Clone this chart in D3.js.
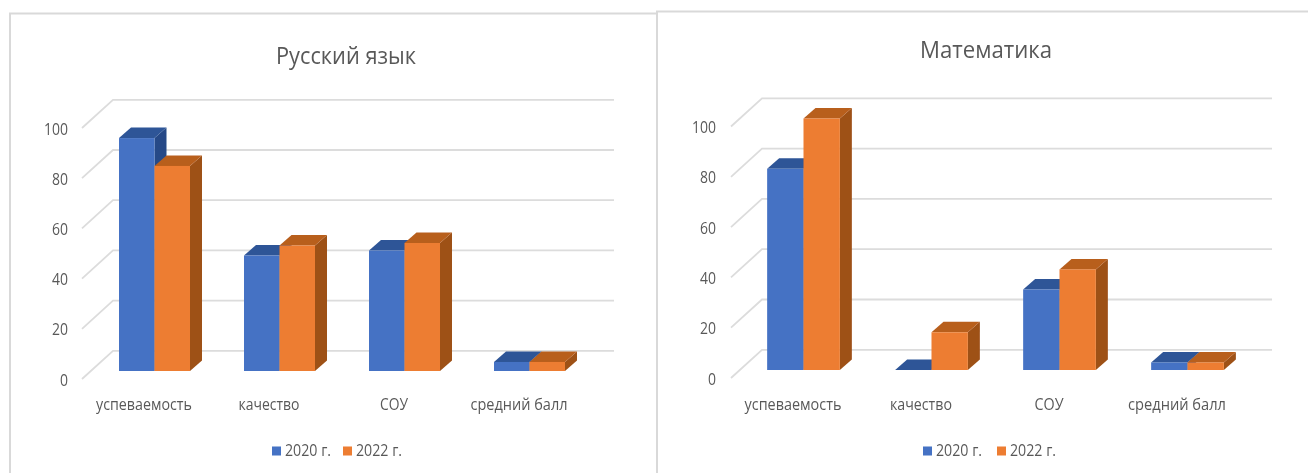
<!DOCTYPE html>
<html><head><meta charset="utf-8">
<script src="https://cdn.jsdelivr.net/npm/d3@7"></script>
<style>html,body{margin:0;padding:0;background:#fff;overflow:hidden}svg{display:block}text{font-family:"Open Sans","Noto Sans",sans-serif;fill:#595959}</style>
</head><body>
<script>
const categories = ["успеваемость","качество","СОУ","средний балл"];
const seriesNames = ["2020 г.","2022 г."];
const russian2020 = [92.8,46,48,3.6];
const russian2022 = [81.7,50,51,3.6];
const math2020 = [80,0,32,3];
const math2022 = [100,15,40,3];
const yTicks = [0,20,40,60,80,100];
const colors = [
 {front:"#4472c4",top:"#2f5597",side:"#264a87"},
 {front:"#ed7d31",top:"#b85f1f",side:"#9e5119"}
];

const svg = d3.select("body").append("svg").attr("width",1308).attr("height",473);
const defs = svg.append("defs");
defs.append("filter").attr("id","soft").append("feGaussianBlur").attr("stdDeviation",0.65);
const root = svg.append("g").attr("filter","url(#soft)");

// panel frames
root.append("path").attr("d","M10,473V13.5H657V473").attr("fill","none").attr("stroke","#d9d9d9").attr("stroke-width",2);
root.append("path").attr("d","M657,13V11.5H1308").attr("fill","none").attr("stroke","#d9d9d9").attr("stroke-width",2);

function chart(o){
  const g = root.append("g");
  const x = d3.scaleBand().domain(categories).range(o.xRange).paddingInner(0.432).paddingOuter(0.216);
  const xs = d3.scaleBand().domain(seriesNames).range([0,x.bandwidth()]);
  const y = d3.scaleLinear().domain([0,100]).range(o.yRange);
  const dx=12, dy=-10.5, wallDy=-20.2;

  // walls
  const ticks = g.selectAll(".t").data(yTicks).enter().append("g");
  ticks.append("path").attr("fill","none").attr("stroke","#dcdcdc").attr("stroke-width",1.8)
    .attr("d",v=>`M${o.gridX0-31},${y(v)+8}L${o.gridX0},${y(v)+wallDy}H${o.gridX1}`);
  ticks.append("text").attr("x",o.labelX).attr("y",v=>y(v)+10).attr("text-anchor","end")
    .attr("dominant-baseline","middle").attr("font-size",17)
    .attr("textLength",v=>String(v).length*8).attr("lengthAdjust","spacingAndGlyphs").text(v=>v);

  // bars
  const rows = categories.map((c,i)=>({c,vals:[o.a[i],o.b[i]]}));
  rows.forEach(r=>{
    r.vals.forEach((v,s)=>{
      const name=seriesNames[s], x0=x(r.c)+xs(name), w=xs.bandwidth(), yt=y(v), yb=y(0), col=colors[s];
      const bar=g.append("g");
      bar.append("path").attr("fill",col.side)
        .attr("d",`M${x0+w},${yt}L${x0+w+dx},${yt+dy}V${yb+dy}L${x0+w},${yb}Z`);
      bar.append("path").attr("fill",col.top)
        .attr("d",`M${x0},${yt}L${x0+dx},${yt+dy}H${x0+w+dx}L${x0+w},${yt}Z`);
      bar.append("rect").attr("x",x0).attr("y",yt).attr("width",w).attr("height",yb-yt).attr("fill",col.front);
    });
  });

  // category labels
  g.selectAll(".c").data(categories).enter().append("text")
    .attr("x",c=>x(c)+x.bandwidth()/2-10.5).attr("y",406).attr("text-anchor","middle")
    .attr("dominant-baseline","middle").attr("font-size",16.5)
    .attr("textLength",(c,i)=>o.catW[i]).attr("lengthAdjust","spacingAndGlyphs").text(c=>c);

  // title
  g.append("text").attr("x",o.titleX).attr("y",o.titleY).attr("text-anchor","middle").attr("dominant-baseline","middle")
    .attr("font-size",24).attr("textLength",o.titleW).attr("lengthAdjust","spacingAndGlyphs").text(o.title);

  // legend
  seriesNames.forEach((n,s)=>{
    g.append("rect").attr("x",o.legX[s]).attr("y",446.5).attr("width",9).attr("height",9).attr("fill",colors[s].front);
    g.append("text").attr("x",o.legX[s]+13).attr("y",452).attr("dominant-baseline","middle").attr("font-size",16.5)
      .attr("textLength",46).attr("lengthAdjust","spacingAndGlyphs").text(n);
  });
}

chart({title:"Русский язык",a:russian2020,b:russian2022,xRange:[92,592],yRange:[371,120],
  gridX0:113,gridX1:614,labelX:68,titleX:346,titleY:58,titleW:140,legX:[272,343],catW:[96,61,28,97]});
chart({title:"Математика",a:math2020,b:math2022,xRange:[739.5,1251.5],yRange:[370,118.5],
  gridX0:762,gridX1:1272,labelX:716,titleX:986,titleY:52,titleW:132,legX:[923,997],catW:[97,62,29,98]});
</script>
</body></html>
